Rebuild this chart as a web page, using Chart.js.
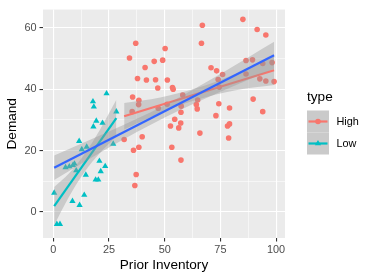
<!DOCTYPE html>
<html>
<head>
<meta charset="utf-8">
<script src="https://cdn.jsdelivr.net/npm/chart.js@4.4.1/dist/chart.umd.min.js"></script>
<style>
  body { margin: 0; background: #ffffff; }
  #wrap { width: 374px; height: 280px; position: relative; }
</style>
</head>
<body>
<div id="wrap"><canvas id="chart"></canvas></div>
<script>
// High inventory group (circles)
const highX = [31.8, 34.2, 35.6, 35.4, 36.0, 36.6, 37.0, 37.2, 37.8, 38.4, 38.3, 38.4, 39.9, 41.2, 41.8, 45.3,
  45.9, 46.9, 47.1, 49.1, 50.2, 51.2, 51.1, 52.6, 53.2, 53.5, 53.8, 54.5, 56.3, 57.2, 57.3, 57.4,
  57.3, 58.1, 64.6, 64.2, 64.8, 65.8, 66.5, 66.9, 70.8, 73.0, 73.3, 74.0, 74.3, 74.5, 76.0, 78.2,
  78.7, 79.1, 79.1, 85.1, 86.5, 86.5, 89.4, 89.7, 91.5, 92.7, 94.0, 94.0, 95.4, 95.4, 98.2, 99.1];
const highY = [23.6, 50.2, 37.5, 32.7, 20.1, 8.6, 55.0, 12.2, 43.5, 36.4, 35.0, 21.1, 24.5, 47.1, 43.0, 49.1,
  43.1, 40.4, 33.8, 49.5, 53.3, 43.0, 35.1, 28.0, 21.1, 40.6, 40.0, 30.2, 27.4, 29.0, 32.5, 34.5,
  16.9, 38.1, 33.6, 35.0, 36.5, 25.7, 55.0, 60.9, 47.0, 31.4, 46.0, 43.2, 35.3, 40.7, 44.8, 28.0,
  24.1, 28.7, 33.9, 62.8, 49.4, 45.0, 49.6, 36.8, 59.5, 43.4, 48.4, 32.7, 57.7, 42.7, 48.7, 42.5];

// Low inventory group (triangles)
const lowX = [0.4, 1.6, 3.0, 5.5, 7.2, 8.6, 8.8, 9.5, 10.3, 11.8, 11.6, 12.8, 13.9, 14.6,
  15.0, 17.8, 18.2, 18.0, 19.0, 19.3, 20.2, 20.7, 21.3, 22.1, 23.3, 23.9, 26.9, 28.3];
const lowY = [6.2, -4.0, -4.0, 14.5, 14.8, 3.5, 15.2, 15.7, 13.5, 2.2, 23.1, 20.4, 5.5, 12.1,
  21.2, 36.0, 34.3, 27.8, 10.5, 29.7, 10.5, 16.6, 13.2, 29.0, 14.9, 38.6, 22.2, 32.7];

// fitted lines
const allFitX = [0.4, 99.1];
const allFitY = [14.4, 51.1];
const highFitX = [31.8, 99.1];
const highFitY = [31.2, 46.2];
const lowFitX = [0.4, 28.3];
const lowFitY = [1.9, 30.6];

// confidence bands
const allBandX = [0.4, 25, 50, 75, 99.1];
const allBandHi = [18.4, 26.2, 34.8, 45.0, 55.5];
const allBandLo = [10.4, 21.0, 30.8, 39.2, 46.7];
const highBandX = [31.8, 48, 64, 82, 99.1];
const highBandHi = [35.5, 37.3, 40.3, 45.1, 51.0];
const highBandLo = [26.9, 32.3, 36.5, 39.7, 41.4];
const lowBandX = [0.4, 7, 14, 21, 28.3];
const lowBandHi = [8.1, 12.5, 18.8, 26.9, 36.6];
const lowBandLo = [-4.3, 4.9, 13.0, 19.3, 24.6];

const xTicks = [0, 25, 50, 75, 100];
const yTicks = [0, 20, 40, 60];

const RED = '#F8766D';
const CYAN = '#00BFC4';
const BLUE = '#3366FF';
const BAND = 'rgba(153,153,153,0.4)';
const FONT = '"Liberation Sans", Arial, sans-serif';

function pts(xs, ys) {
    return xs.map((x, i) => ({ x: x, y: ys[i] }));
}

function bandPair(xs, hi, lo, order, lowerIndex) {
    return [{
        data: pts(xs, hi),
        borderWidth: 0,
        pointRadius: 0,
        backgroundColor: BAND,
        fill: lowerIndex,
        cubicInterpolationMode: 'monotone',
        order: order
    }, {
        data: pts(xs, lo),
        borderWidth: 0,
        pointRadius: 0,
        fill: false,
        cubicInterpolationMode: 'monotone',
        order: order
    }];
}

function fitLine(xs, ys, color, order) {
    return {
        data: pts(xs, ys),
        borderColor: color,
        borderWidth: 2.2,
        pointRadius: 0,
        fill: false,
        order: order
    };
}

const datasets = [
    // 0,1 high points / low points
    { data: pts(highX, highY), showLine: false, pointStyle: 'circle', pointRadius: 2.8,
      backgroundColor: RED, borderWidth: 0, order: 9 },
    { data: pts(lowX, lowY), showLine: false, pointStyle: 'triangle', pointRadius: 3.6,
      backgroundColor: CYAN, borderWidth: 0, order: 8 },
    // 2,3 high band
    ...bandPair(highBandX, highBandHi, highBandLo, 7, 3),
    // 4 high line
    fitLine(highFitX, highFitY, RED, 6),
    // 5,6 low band
    ...bandPair(lowBandX, lowBandHi, lowBandLo, 5, 6),
    // 7 low line
    fitLine(lowFitX, lowFitY, CYAN, 4),
    // 8,9 overall band
    ...bandPair(allBandX, allBandHi, allBandLo, 3, 9),
    // 10 overall line
    fitLine(allFitX, allFitY, BLUE, 2)
];

const titlesAndLegend = {
    id: 'titlesAndLegend',
    afterDraw(chart) {
        const c = chart.ctx;
        c.save();
        c.fillStyle = '#000000';
        c.font = '13.6px ' + FONT;
        c.textAlign = 'center';
        c.textBaseline = 'alphabetic';
        c.fillText('Prior Inventory', (chart.chartArea.left + chart.chartArea.right) / 2, 268.8);
        c.translate(16, (chart.chartArea.top + chart.chartArea.bottom) / 2);
        c.rotate(-Math.PI / 2);
        c.fillText('Demand', 0, 0);
        c.restore();

        // legend
        c.save();
        c.font = '13.6px ' + FONT;
        c.fillStyle = '#000000';
        c.textAlign = 'left';
        c.fillText('type', 307, 101);
        const keys = [
            { label: 'High', color: RED, shape: 'circle' },
            { label: 'Low', color: CYAN, shape: 'triangle' }
        ];
        keys.forEach((k, i) => {
            const kx = 307, ky = 110.5 + i * 22;
            c.fillStyle = 'rgb(202,202,202)';
            c.fillRect(kx, ky, 22, 22);
            const cy = ky + 11;
            c.strokeStyle = k.color;
            c.lineWidth = 2.2;
            c.beginPath();
            c.moveTo(kx + 1.5, cy);
            c.lineTo(kx + 20.5, cy);
            c.stroke();
            c.fillStyle = k.color;
            c.beginPath();
            if (k.shape === 'circle') {
                c.arc(kx + 11, cy, 2.8, 0, Math.PI * 2);
            } else {
                const r = 3.6;
                c.moveTo(kx + 11, cy - r);
                c.lineTo(kx + 11 + r * 0.866, cy + r * 0.5);
                c.lineTo(kx + 11 - r * 0.866, cy + r * 0.5);
                c.closePath();
            }
            c.fill();
            c.fillStyle = '#000000';
            c.font = '10.9px ' + FONT;
            c.textBaseline = 'middle';
            c.fillText(k.label, 336.5, cy);
        });
        c.restore();
    }
};

const panelBg = {
    id: 'panelBg',
    beforeDraw(chart) {
        const a = chart.chartArea;
        const c = chart.ctx;
        c.save();
        c.fillStyle = '#EBEBEB';
        c.fillRect(a.left, a.top, a.right - a.left, a.bottom - a.top);
        c.restore();
    }
};

function axisOpts(min, max, step, majors, fit) {
    return {
        type: 'linear',
        min: min,
        max: max,
        afterFit: fit,
        ticks: {
            stepSize: step,
            includeBounds: false,
            autoSkip: false,
            maxRotation: 0,
            padding: 2,
            color: '#4D4D4D',
            font: { family: FONT, size: 10.9 },
            callback: (v) => majors.includes(v) ? String(v) : ''
        },
        grid: {
            color: '#ffffff',
            lineWidth: (ctx) => majors.includes(ctx.tick && ctx.tick.value) ? 1.1 : 0.55,
            tickLength: 3.5,
            tickColor: (ctx) => majors.includes(ctx.tick && ctx.tick.value) ? '#333333' : 'rgba(0,0,0,0)',
            tickWidth: 1.1
        },
        border: { display: false }
    };
}

const xAxis = axisOpts(-4.62, 104.0, 12.5, xTicks, (scale) => { scale.height = 42; });
const yAxis = axisOpts(-8.5, 66.0, 10, yTicks, (scale) => { scale.width = 43; });
yAxis.ticks.padding = 3;

new Chart(document.getElementById('chart'), {
    type: 'line',
    data: { datasets: datasets },
    plugins: [panelBg, titlesAndLegend],
    options: {
        responsive: true,
        maintainAspectRatio: false,
        animation: false,
        layout: { padding: { top: 7, right: 89, left: 0, bottom: 0 } },
        plugins: {
            legend: { display: false },
            tooltip: { enabled: false }
        },
        scales: { x: xAxis, y: yAxis }
    }
});
</script>
</body>
</html>
